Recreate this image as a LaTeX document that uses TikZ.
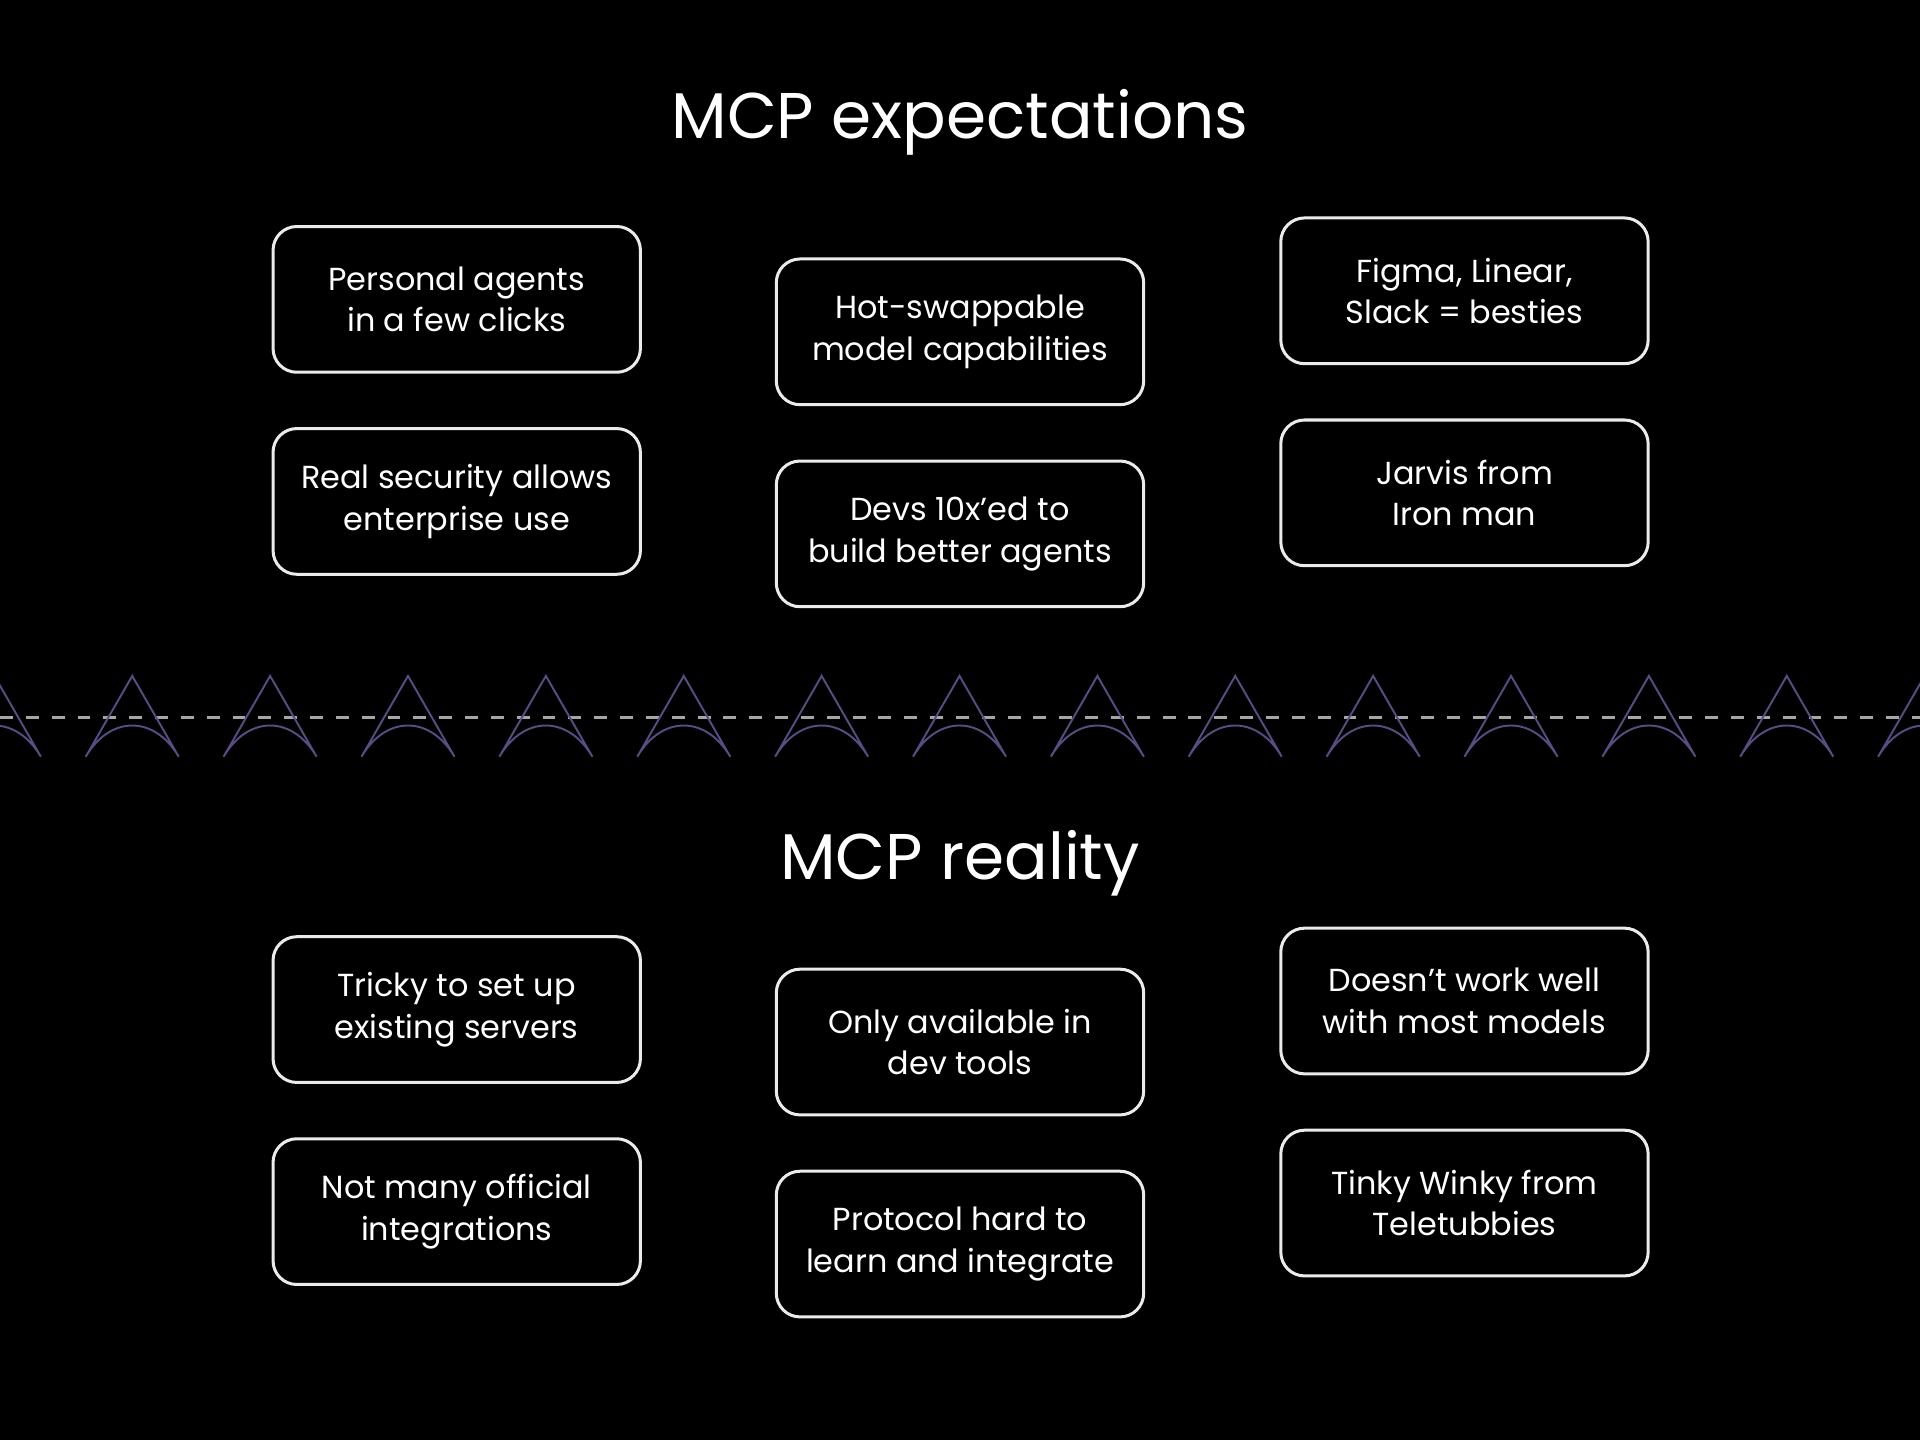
\documentclass[tikz,border=0pt]{standalone}
\usepackage{fontspec}
\setmainfont{Poppins}
\definecolor{tric}{RGB}{88,76,130}
\begin{document}
\begin{tikzpicture}[x=0.01cm,y=-0.01cm,
  card/.style={draw=white!92!black,line width=0.7pt,rounded corners=5.5pt,minimum width=300*0.01cm,minimum height=119*0.01cm,text=white,font=\fontsize{7.4}{9.6}\selectfont,align=center,inner sep=0pt},
  ttl/.style={text=white,font=\fontsize{15}{18}\selectfont},
  tri/.style={draw=tric,line width=0.45pt},
  sep/.style={draw=gray!70,line width=0.8pt,dash pattern=on 3pt off 3pt}]
\fill[black] (0,0) rectangle (1568,1176);
\useasboundingbox (0,0) rectangle (1568,1176);
\node[ttl] (t1) at (784,100) {MCP expectations};
\node[ttl] (t2) at (784,705) {MCP reality};
\node[card] (a1) at (373,244.5) {Personal agents\\in a few clicks};
\node[card] (a2) at (373,409.5) {Real security allows\\enterprise use};
\node[card] (b1) at (784,271) {Hot-swappable\\model capabilities};
\node[card] (b2) at (784,436) {Devs 10x’ed to\\build better agents};
\node[card] (c1) at (1196,237.5) {Figma, Linear,\\Slack = besties};
\node[card] (c2) at (1196,402.5) {Jarvis from\\Iron man};
\node[card] (d1) at (373,824.5) {Tricky to set up\\existing servers};
\node[card] (d2) at (373,989.5) {Not many official\\integrations};
\node[card] (e1) at (784,851) {Only available in\\dev tools};
\node[card] (e2) at (784,1016) {Protocol hard to\\learn and integrate};
\node[card] (f1) at (1196,817.5) {Doesn’t work well\\with most models};
\node[card] (f2) at (1196,982.5) {Tinky Winky from\\Teletubbies};
\draw[sep] (0,586) -- (1568,586);
\foreach \i in {-1,...,14}{
  \pgfmathsetmacro{\cx}{108+112.6*\i}
  \draw[tri] (\cx-38,618) -- (\cx,552) -- (\cx+38,618) .. controls (\cx+18,584) and (\cx-18,584) .. (\cx-38,618);
}
\end{tikzpicture}
\end{document}
